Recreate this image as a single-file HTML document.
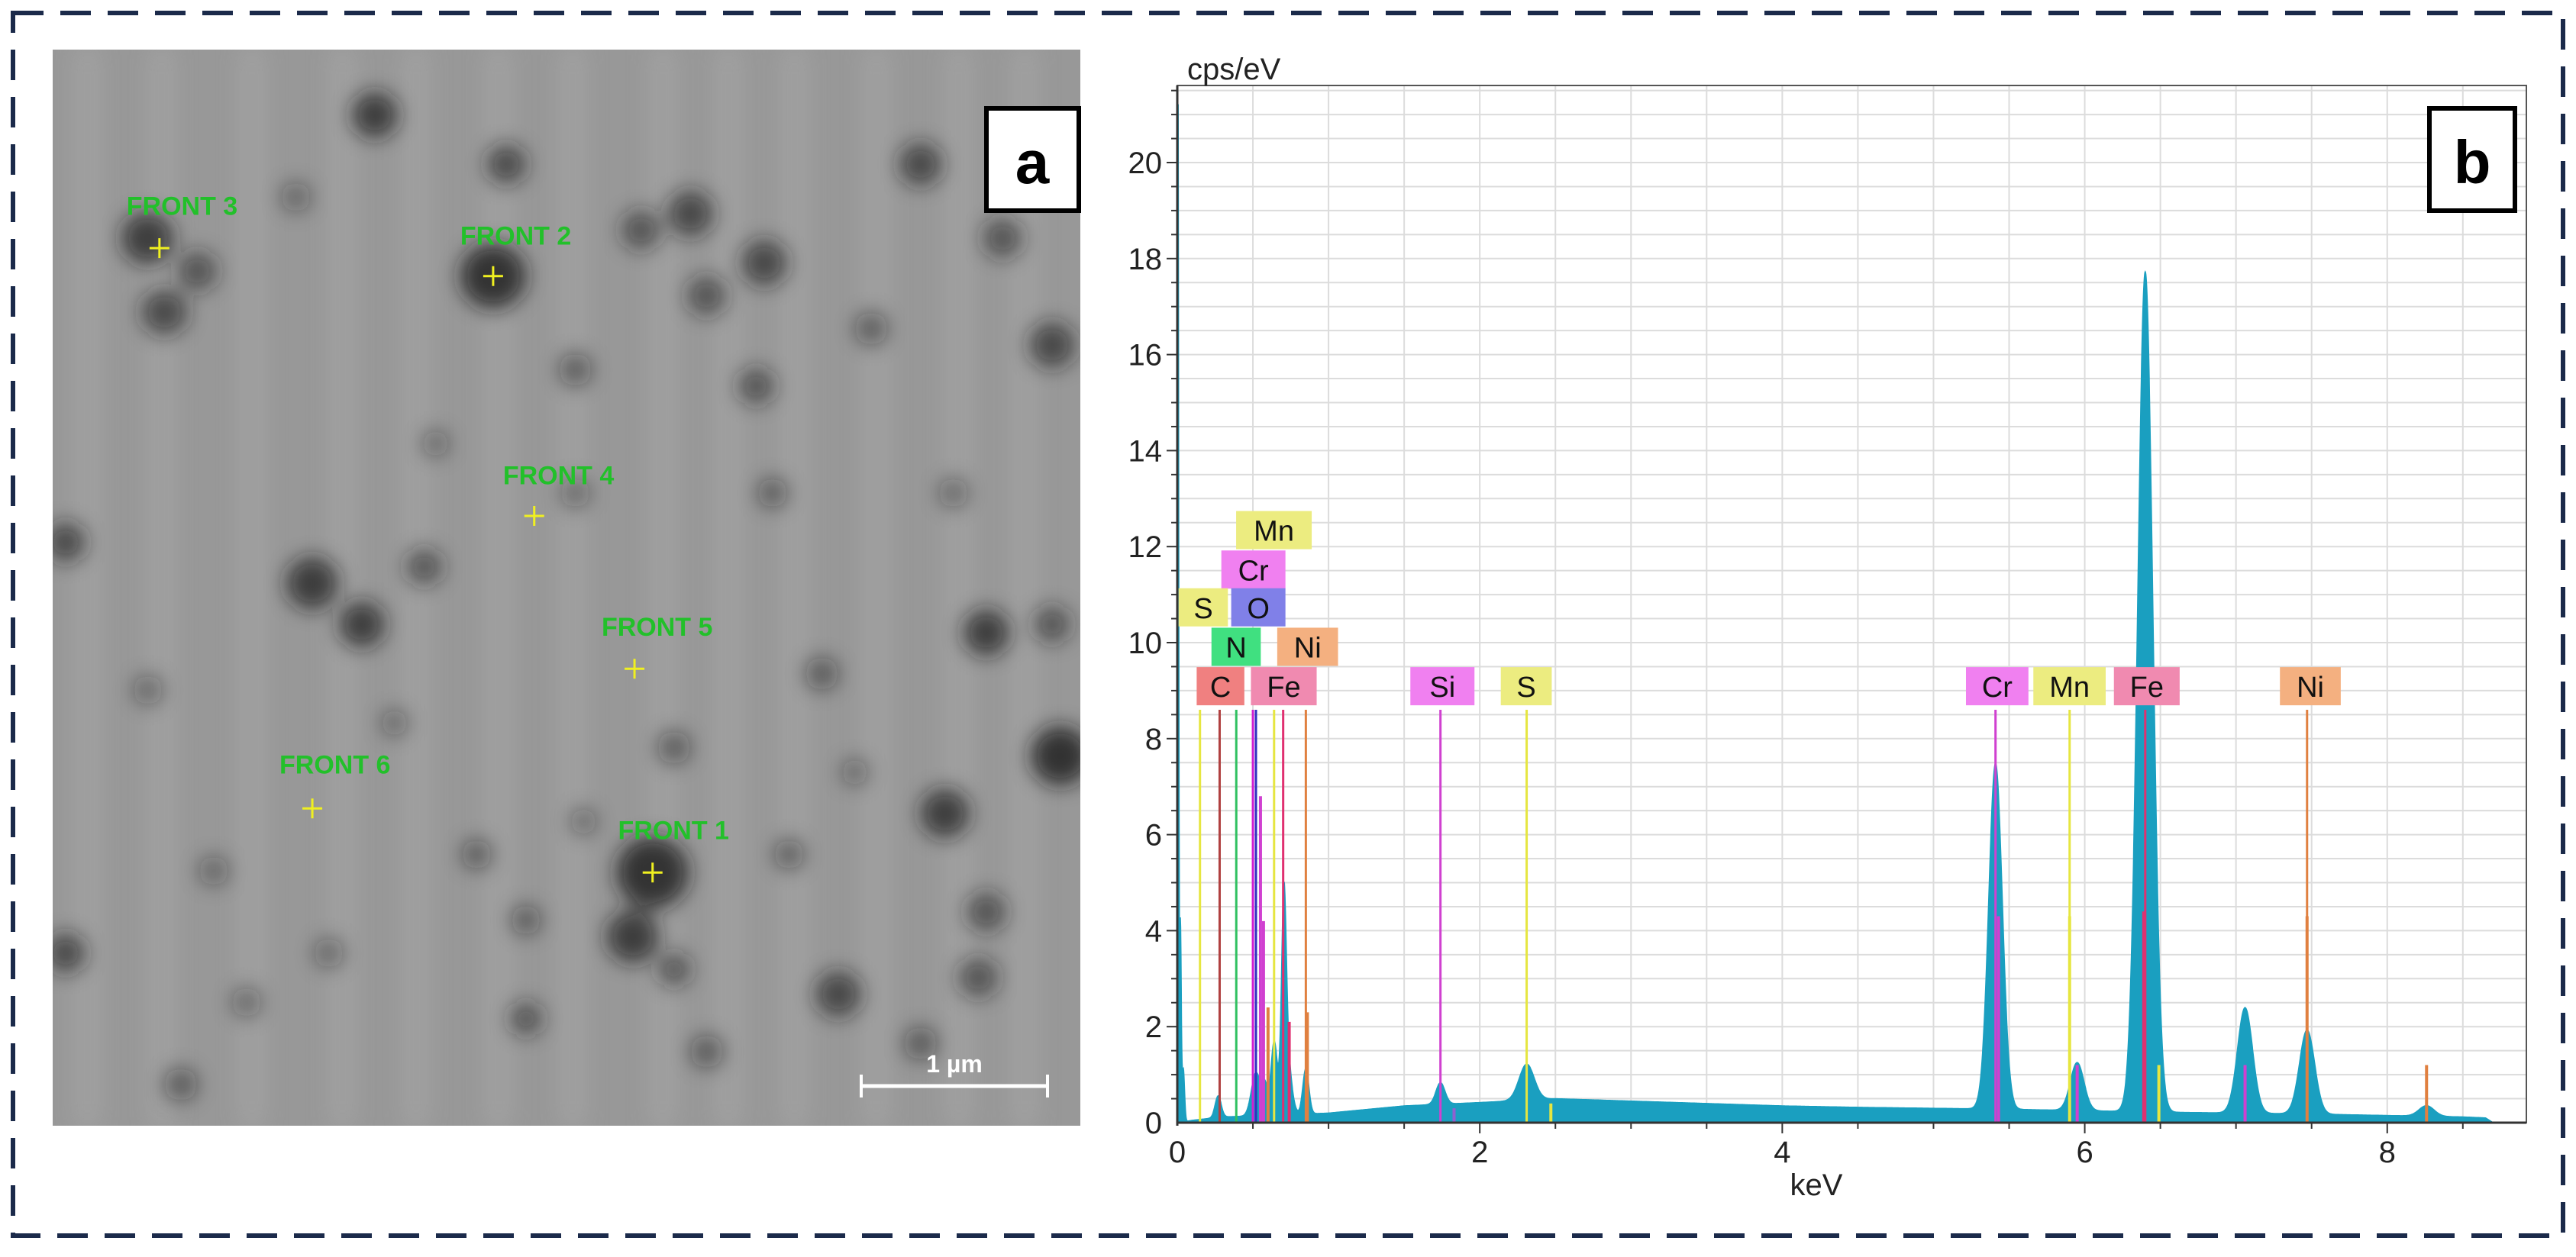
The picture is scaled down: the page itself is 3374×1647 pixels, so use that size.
<!DOCTYPE html>
<html><head><meta charset="utf-8"><style>
html,body{margin:0;padding:0;background:#fff;}
svg{display:block;font-family:"Liberation Sans","DejaVu Sans",sans-serif;}
</style></head><body>
<svg id="root" width="3374" height="1647" viewBox="0 0 3374 1647">
<defs>
<filter id="blur6" x="-50%" y="-50%" width="200%" height="200%"><feGaussianBlur stdDeviation="13"/></filter>
<filter id="blur20" x="-20%" y="-20%" width="140%" height="140%"><feGaussianBlur stdDeviation="18"/></filter>
<clipPath id="semclip"><rect x="69" y="65" width="1346" height="1410"/></clipPath>
<clipPath id="plotclip"><rect x="1542" y="112" width="1767" height="1359"/></clipPath>
</defs>
<rect x="17" y="17" width="3340" height="1602" fill="none" stroke="#1b2a4a" stroke-width="6" stroke-dasharray="40 22"/>
<g id="sem" clip-path="url(#semclip)">
<rect x="69" y="65" width="1346" height="1410" fill="#989898"/>
<g id="streaks" filter="url(#blur20)"></g>
<g id="blobs" filter="url(#blur6)"></g>
</g>
<g id="semlabels"></g>
<g>
<line x1="1128" y1="1423" x2="1372" y2="1423" stroke="#fff" stroke-width="5"/>
<line x1="1128" y1="1408" x2="1128" y2="1438" stroke="#fff" stroke-width="4"/>
<line x1="1372" y1="1408" x2="1372" y2="1438" stroke="#fff" stroke-width="4"/>
<text x="1250" y="1405" fill="#fff" font-size="32" font-weight="bold" text-anchor="middle">1 µm</text>
</g>
<g>
<rect x="1292" y="142" width="121" height="134" fill="#fff" stroke="#000" stroke-width="6"/>
<text x="1352" y="240" font-size="80" font-weight="bold" text-anchor="middle">a</text>
</g>
<g id="chart"></g>
<g>
<rect x="3182" y="142" width="112" height="134" fill="#fff" stroke="#000" stroke-width="6"/>
<text x="3238" y="240" font-size="80" font-weight="bold" text-anchor="middle">b</text>
</g>
</svg>
<script>
const NS="http://www.w3.org/2000/svg";
function mk(tag,attrs,parent){const e=document.createElementNS(NS,tag);for(const k in attrs)e.setAttribute(k,attrs[k]);parent.appendChild(e);return e;}
const S=2.153;
// ---- SEM image (decorative) ----
const streakX=[50,95,150,205,250,300,345,400,440,480,530,580,620];
const streaks=document.getElementById('streaks');
streakX.forEach(x=>{const r=mk('rect',{x:x*S,y:60,width:14,height:1420,fill:'#c0c0c0',opacity:0.6},streaks);

});
const blobs=[[228,70,14,0.9],[90,145,16,0.9],[120,165,12,0.7],[100,190,14,0.8],[300,168,20,1],[308,100,12,0.8],[390,140,12,0.7],[420,130,14,0.8],[465,160,14,0.8],[560,100,13,0.8],[610,145,12,0.7],[430,180,12,0.7],[530,200,10,0.6],[460,235,11,0.7],[640,210,14,0.8],[350,225,10,0.6],[190,355,16,0.9],[220,380,14,0.9],[258,345,11,0.7],[40,330,12,0.8],[600,385,14,0.9],[640,380,11,0.7],[500,410,10,0.6],[645,460,18,1],[575,495,15,0.9],[410,455,10,0.6],[397,531,22,1],[385,570,16,0.9],[410,590,10,0.7],[510,605,14,0.8],[600,555,12,0.7],[595,595,12,0.7],[40,580,12,0.8],[320,620,10,0.7],[560,635,10,0.6],[130,530,9,0.5],[200,580,9,0.5],[290,520,9,0.6],[240,440,8,0.5],[150,610,9,0.5],[355,500,8,0.5],[470,300,9,0.6],[580,300,9,0.5],[90,420,9,0.5],[480,520,9,0.6],[430,640,10,0.6],[180,120,9,0.5],[350,300,9,0.5],[265,270,8,0.5],[520,470,8,0.5],[110,660,10,0.6],[320,560,9,0.6]];
const bl=document.getElementById('blobs');
blobs.forEach(b=>{const c=mk('circle',{cx:b[0]*S,cy:b[1]*S,r:b[2]*S,fill:'#1a1a1a',opacity:b[3]*0.8},bl);

});
const fronts=[["FRONT 3",77,128,97,151],["FRONT 2",280,146,300,168],["FRONT 4",306,292,325,314],["FRONT 5",366,384,386,407],["FRONT 6",170,468,190,492],["FRONT 1",376,508,397,531]];
const sl=document.getElementById('semlabels');
fronts.forEach(f=>{const t=mk('text',{x:f[1]*S,y:f[2]*S+6,fill:'#22c02a','font-size':34,'font-weight':'bold'},sl);t.textContent=f[0];


const cx=f[3]*S,cy=f[4]*S;
const p=mk('path',{d:`M${cx-13} ${cy}H${cx+13}M${cx} ${cy-13}V${cy+13}`,stroke:'#f0f020','stroke-width':3},sl);

});
// ---- Chart data ----
const peakE=[0.005,0.02,0.04,0.27,0.52,0.58,0.64,0.705,0.72,0.85,1.74,2.31,5.41,5.95,6.40,7.06,7.47,8.26];
const peakH=[21.6,4.2,1.1,0.45,0.9,0.6,1.5,3.6,1.4,0.95,0.45,0.75,7.2,1.0,17.5,2.2,1.75,0.22];
const peakW=[0.004,0.006,0.008,0.02,0.03,0.02,0.02,0.015,0.03,0.02,0.03,0.05,0.045,0.045,0.05,0.05,0.05,0.05];
const bgE=[0,0.1,0.3,0.6,1.0,1.5,2.0,2.5,3.0,3.5,4.0,4.5,5.0,5.5,6.0,6.5,7.0,7.5,8.0,8.5,8.65,8.7];
const bgV=[0,0.05,0.12,0.15,0.2,0.35,0.42,0.5,0.45,0.4,0.35,0.32,0.3,0.28,0.25,0.22,0.2,0.18,0.15,0.12,0.1,0];
const xTicks=[0,2,4,6,8];
const yTicks=[0,2,4,6,8,10,12,14,16,18,20];
const lineE=[0.15,0.28,0.39,0.50,0.52,0.64,0.70,0.85,1.74,2.31,5.41,5.90,6.40,7.47];
const lineC=['#e6e640','#b04040','#30c060','#d020d0','#3030c0','#e6e640','#e03070','#e08040','#d040d0','#e6e640','#d040d0','#e6e640','#e03070','#e08040'];
const minorE=[0.55,0.57,0.60,0.74,0.86,1.83,2.47,5.43,5.90,5.95,6.39,6.49,7.06,7.47,8.26];
const minorV=[6.8,4.2,2.4,2.1,2.3,0.3,0.4,4.3,4.3,1.2,4.4,1.2,1.2,4.3,1.2];
const minorC=['#d040d0','#d040d0','#e08040','#e03070','#e08040','#9060d0','#e6e640','#d040d0','#e6e640','#d040d0','#e03070','#e6e640','#d040d0','#e08040','#e08040'];
const labelT=['Mn','Cr','S','O','N','Ni','C','Fe','Si','S','Cr','Mn','Fe','Ni'];
const labelC=['#ecec80','#f080f0','#ecec80','#8080e8','#40e080','#f4b080','#f08080','#f08ab0','#f080f0','#ecec80','#f080f0','#ecec80','#f08ab0','#f4b080'];
const labelX=[752,743,717,749,737,777,728,761,858,913,1196,1237,1286,1387];
const labelX2=[798,782,747,782,767,814,757,801,897,944,1234,1281,1326,1424];
const labelY=[311,335,358,358,382,382,406,406,406,406,406,406,406,406];
// ---- axes ----
const X0=1542,X1=3309,Y0=1471,YT=112,XMAX=8.92;
const xs=v=>X0+v*(X1-X0)/XMAX;
const ys=v=>Y0-v*62.9;
const ch=document.getElementById('chart');
const grid=mk('g',{},ch);
for(let v=0.5;v<XMAX;v+=0.5) mk('line',{x1:xs(v),y1:YT,x2:xs(v),y2:Y0,stroke:'#dcdcdc','stroke-width':2},grid);
for(let v=0.5;ys(v)>YT;v+=0.5) mk('line',{x1:X0,y1:ys(v),x2:X1,y2:ys(v),stroke:'#dcdcdc','stroke-width':2},grid);
function spec(e){let v=0;for(let i=0;i<bgE.length-1;i++){if(e>=bgE[i]&&e<=bgE[i+1]){v=bgV[i]+(bgV[i+1]-bgV[i])*(e-bgE[i])/(bgE[i+1]-bgE[i]);break;}}
for(let i=0;i<peakE.length;i++){const d=(e-peakE[i])/peakW[i];v+=peakH[i]*Math.exp(-0.5*d*d);}return v;}
let d=`M${xs(0)} ${ys(0)}`;
for(let e=0;e<=8.7;e+=0.002){d+=`L${xs(e).toFixed(1)} ${Math.max(YT,ys(spec(e))).toFixed(1)}`;}
d+=`L${xs(8.7)} ${ys(0)}L${xs(XMAX)} ${ys(0)}Z`;
const sp=mk('path',{d:d,fill:'#1a9fc0',stroke:'#1a9fc0','stroke-width':1.5,'clip-path':'url(#plotclip)'},ch);


minorE.forEach((e,i)=>{const l=mk('line',{x1:xs(e),y1:ys(minorV[i]),x2:xs(e),y2:Y0,stroke:minorC[i],'stroke-width':4},ch);

});
lineE.forEach((e,i)=>{const l=mk('line',{x1:xs(e),y1:ys(8.6),x2:xs(e),y2:Y0,stroke:lineC[i],'stroke-width':3},ch);

});
labelT.forEach((t,i)=>{const g=mk('g',{},ch);


const x=labelX[i]*S,w=(labelX2[i]-labelX[i])*S,y=labelY[i]*S;
mk('rect',{x:x,y:y,width:w,height:50,fill:labelC[i]},g);
const tx=mk('text',{x:x+w/2,y:y+39,'font-size':38,'text-anchor':'middle',fill:'#111'},g);tx.textContent=t;});
mk('rect',{x:X0,y:YT,width:X1-X0,height:Y0-YT,fill:'none',stroke:'#555','stroke-width':2},ch);
mk('line',{x1:X0,y1:YT,x2:X0,y2:Y0+4,stroke:'#333','stroke-width':3},ch);
mk('line',{x1:X0,y1:Y0,x2:X1,y2:Y0,stroke:'#333','stroke-width':3},ch);
for(let v=0.5;ys(v)>YT;v+=0.5) mk('line',{x1:X0-(v%2===0?14:8),y1:ys(v),x2:X0,y2:ys(v),stroke:'#333','stroke-width':2},ch);
for(let v=0.5;v<XMAX;v+=0.5) mk('line',{x1:xs(v),y1:Y0,x2:xs(v),y2:Y0+(v%2===0?14:8),stroke:'#333','stroke-width':2},ch);
yTicks.forEach(v=>{const t=mk('text',{x:X0-20,y:ys(v)+14,'font-size':40,'text-anchor':'end',fill:'#222'},ch);t.textContent=v;

});
xTicks.forEach(v=>{const t=mk('text',{x:xs(v),y:Y0+52,'font-size':40,'text-anchor':'middle',fill:'#222'},ch);t.textContent=v;

});
const yt=mk('text',{x:1555,y:104,'font-size':40,fill:'#222'},ch);yt.textContent='cps/eV';


const xt=mk('text',{x:2379,y:1566,'font-size':40,'text-anchor':'middle',fill:'#222'},ch);xt.textContent='keV';


</script>
</body></html>
